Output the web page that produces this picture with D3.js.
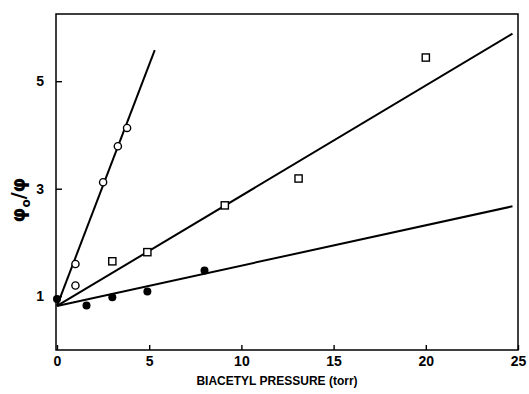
<!DOCTYPE html>
<html>
<head>
<meta charset="utf-8">
<script src="https://cdn.jsdelivr.net/npm/d3@7"></script>
<style>
  body { margin: 0; background: #fff; }
  svg { display: block; }
  .axis path { display: none; }
  .axis line { stroke: #000; stroke-width: 1.4; }
  .axis text { font-family: "Liberation Sans", Arial, sans-serif; font-weight: bold; font-size: 14px; fill: #000; }
</style>
</head>
<body>
<div id="chart"></div>
<script>
// open circles
var circleX = [1.0, 1.0, 2.5, 3.3, 3.8];
var circleY = [1.60, 1.20, 3.12, 3.79, 4.13];
// open squares
var squareX = [3.0, 4.9, 9.1, 13.1, 20.0];
var squareY = [1.65, 1.82, 2.69, 3.19, 5.44];
// filled circles
var dotX = [0, 1.6, 3.0, 4.9, 8.0];
var dotY = [0.95, 0.83, 0.98, 1.09, 1.48];
// fitted lines: [x start, x end], intercept, slope
var lineEnds = [[0, 5.3], [0, 24.7], [0, 24.7]];
var lineIntercepts = [0.82, 0.82, 0.82];
var lineSlopes = [0.898, 0.205, 0.075];

var xTicks = [0, 5, 10, 15, 20, 25];
var yTicks = [1, 3, 5];

var width = 529, height = 394;
var margin = {top: 14, right: 11, bottom: 44, left: 57};

var svg = d3.select("#chart").append("svg")
    .attr("width", width)
    .attr("height", height);

var x = d3.scaleLinear().domain([0, 25]).range([margin.left, width - margin.right]);
var y = d3.scaleLinear().domain([0, 6.25]).range([height - margin.bottom, margin.top]);

// frame
svg.append("rect")
    .attr("x", margin.left - 1)
    .attr("y", margin.top)
    .attr("width", width - margin.right - margin.left + 1)
    .attr("height", height - margin.bottom - margin.top)
    .attr("fill", "none")
    .attr("stroke", "#000")
    .attr("stroke-width", 1.5);

svg.append("g")
    .attr("class", "x axis")
    .attr("transform", "translate(0," + (height - margin.bottom) + ")")
    .call(d3.axisBottom(x).tickValues(xTicks).tickSizeInner(-5).tickPadding(6).tickFormat(d3.format("d")));

svg.append("g")
    .attr("class", "y axis")
    .attr("transform", "translate(" + (margin.left - 1) + ",0)")
    .call(d3.axisLeft(y).tickValues(yTicks).tickSizeInner(-6).tickPadding(12).tickFormat(d3.format("d")));

// fitted lines
var line = d3.line().x(function(d) { return x(d[0]); }).y(function(d) { return y(d[1]); });
lineEnds.forEach(function(e, i) {
    var pts = e.map(function(v) { return [v, lineIntercepts[i] + lineSlopes[i] * v]; });
    svg.append("path")
        .attr("d", line(pts))
        .attr("fill", "none")
        .attr("stroke", "#000")
        .attr("stroke-width", 2);
});

// open circles
svg.selectAll(".opencircle")
    .data(d3.zip(circleX, circleY))
  .enter().append("circle")
    .attr("class", "opencircle")
    .attr("cx", function(d) { return x(d[0]); })
    .attr("cy", function(d) { return y(d[1]); })
    .attr("r", 3.6)
    .attr("fill", "#fff")
    .attr("stroke", "#000")
    .attr("stroke-width", 1.4);

// open squares
svg.selectAll(".square")
    .data(d3.zip(squareX, squareY))
  .enter().append("rect")
    .attr("class", "square")
    .attr("x", function(d) { return x(d[0]) - 3.6; })
    .attr("y", function(d) { return y(d[1]) - 3.6; })
    .attr("width", 7.2)
    .attr("height", 7.2)
    .attr("fill", "#fff")
    .attr("stroke", "#000")
    .attr("stroke-width", 1.4);

// filled circles
svg.selectAll(".dot")
    .data(d3.zip(dotX, dotY))
  .enter().append("circle")
    .attr("class", "dot")
    .attr("cx", function(d) { return x(d[0]); })
    .attr("cy", function(d) { return y(d[1]); })
    .attr("r", 4)
    .attr("fill", "#000");

// axis titles
svg.append("text")
    .attr("x", 277)
    .attr("y", 385)
    .attr("text-anchor", "middle")
    .style("font-family", "Liberation Sans, Arial, sans-serif")
    .style("font-weight", "bold")
    .style("font-size", "12px")
    .text("BIACETYL PRESSURE (torr)");

var yl = svg.append("text")
    .attr("transform", "translate(25,200) rotate(-90)")
    .attr("text-anchor", "middle")
    .style("font-family", "DejaVu Sans, sans-serif")
    .style("font-weight", "bold")
    .style("font-size", "19px");
yl.append("tspan").text("φ");
yl.append("tspan").attr("dy", 5).style("font-size", "12px").text("o");
yl.append("tspan").attr("dy", -5).text("/φ");
</script>
</body>
</html>
